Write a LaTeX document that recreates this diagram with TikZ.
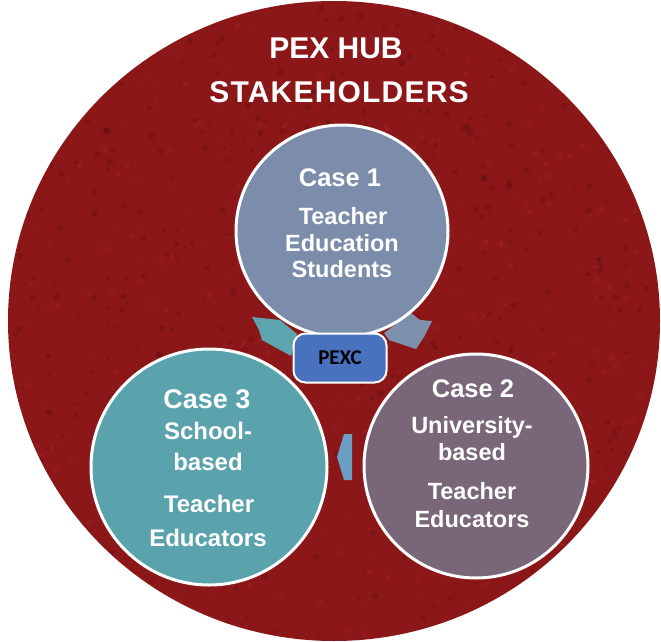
\documentclass[tikz,border=0pt]{standalone}
\usepackage{fontspec}
\setmainfont{Liberation Sans}
\newfontfamily\pexcfont{Carlito}
\definecolor{hubred}{RGB}{139,23,24}
\definecolor{caseone}{RGB}{124,141,171}
\definecolor{casetwo}{RGB}{122,102,121}
\definecolor{casethree}{RGB}{90,162,172}
\definecolor{arrowteal}{RGB}{92,165,175}
\definecolor{arrowgrey}{RGB}{125,145,172}
\definecolor{arrowblue}{RGB}{107,160,196}
\definecolor{pexcblue}{RGB}{72,114,190}
\newcommand{\sz}[1]{\fontsize{#1}{#1}\selectfont}
\begin{document}
\begin{tikzpicture}[x=1pt,y=-1pt,
  casedisc/.style={circle, draw=white, line width=3pt, inner sep=0pt, minimum size=#1},
  line/.style={text=white, anchor=base, inner sep=0pt, font=\bfseries\sz{#1}}]
\useasboundingbox (0,0) rectangle (661,642);

% hub disc with a faint mottled grain
\fill[hubred] (334,321) ellipse [x radius=326, y radius=320];
\begin{scope}
  \clip (334,321) ellipse [x radius=326, y radius=320];
  \pgfmathsetseed{11}
  \foreach \k in {1,...,700} {
    \pgfmathsetmacro{\px}{10+rnd*645}
    \pgfmathsetmacro{\py}{3+rnd*636}
    \pgfmathsetmacro{\pr}{1.2+rnd*2.5}
    \fill[black, opacity=0.10] (\px,\py) circle (\pr);
  }
  \foreach \k in {1,...,500} {
    \pgfmathsetmacro{\px}{10+rnd*645}
    \pgfmathsetmacro{\py}{3+rnd*636}
    \pgfmathsetmacro{\pr}{1+rnd*2}
    \fill[red!60!white, opacity=0.07] (\px,\py) circle (\pr);
  }
\end{scope}

% title
\node[line=30] (t1) at (336,59) {PEX HUB};
\node[line=30] (t2) at (339,102) {\addfontfeature{LetterSpace=4}STAKEHOLDERS};

% cycle arrows (drawn first so the discs overlap them)
\fill[arrowteal] (252,317) -- (280,320) -- (297,334) -- (291,356)
  -- (262,340) -- (259,330) -- cycle;
\fill[arrowgrey] (384,333) -- (411,313) -- (420,320) -- (432,321)
  -- (424,337) -- (416,349) -- (389,340) -- cycle;
\fill[arrowblue] (344,434) -- (352,434) -- (352,480) -- (344,480)
  -- (337,457) -- cycle;

% stakeholder discs
\node[casedisc=212, fill=caseone] (c1) at (342,231) {};
\node[casedisc=224, fill=casetwo] (c2) at (476,466) {};
\node[casedisc=236, fill=casethree] (c3) at (209,467) {};

% centre box
\node[draw=white, line width=2pt, fill=pexcblue, rounded corners=12pt,
      minimum width=93pt, minimum height=49pt, inner sep=0pt,
      font=\pexcfont\bfseries\sz{21}] (pexc) at (340,358) {PEXC};

% case 1 text
\node[line=25.5] (c1a) at (340,186) {Case 1};
\node[line=23.5] (c1b) at (343,224) {Teacher};
\node[line=23.5] (c1c) at (342,251) {Education};
\node[line=23.5] (c1d) at (342,277) {Students};

% case 2 text
\node[line=25.5] (c2a) at (473,397) {Case 2};
\node[line=23.5] (c2b) at (472,433) {University-};
\node[line=23.5] (c2c) at (472,460) {based};
\node[line=23.5] (c2d) at (472,499) {Teacher};
\node[line=23.5] (c2e) at (472,527) {Educators};

% case 3 text
\node[line=27] (c3a) at (207,408) {Case 3};
\node[line=24] (c3b) at (208,439) {School-};
\node[line=24] (c3c) at (208,470) {based};
\node[line=24] (c3d) at (209,512) {Teacher};
\node[line=24] (c3e) at (208,546) {Educators};
\end{tikzpicture}
\end{document}
